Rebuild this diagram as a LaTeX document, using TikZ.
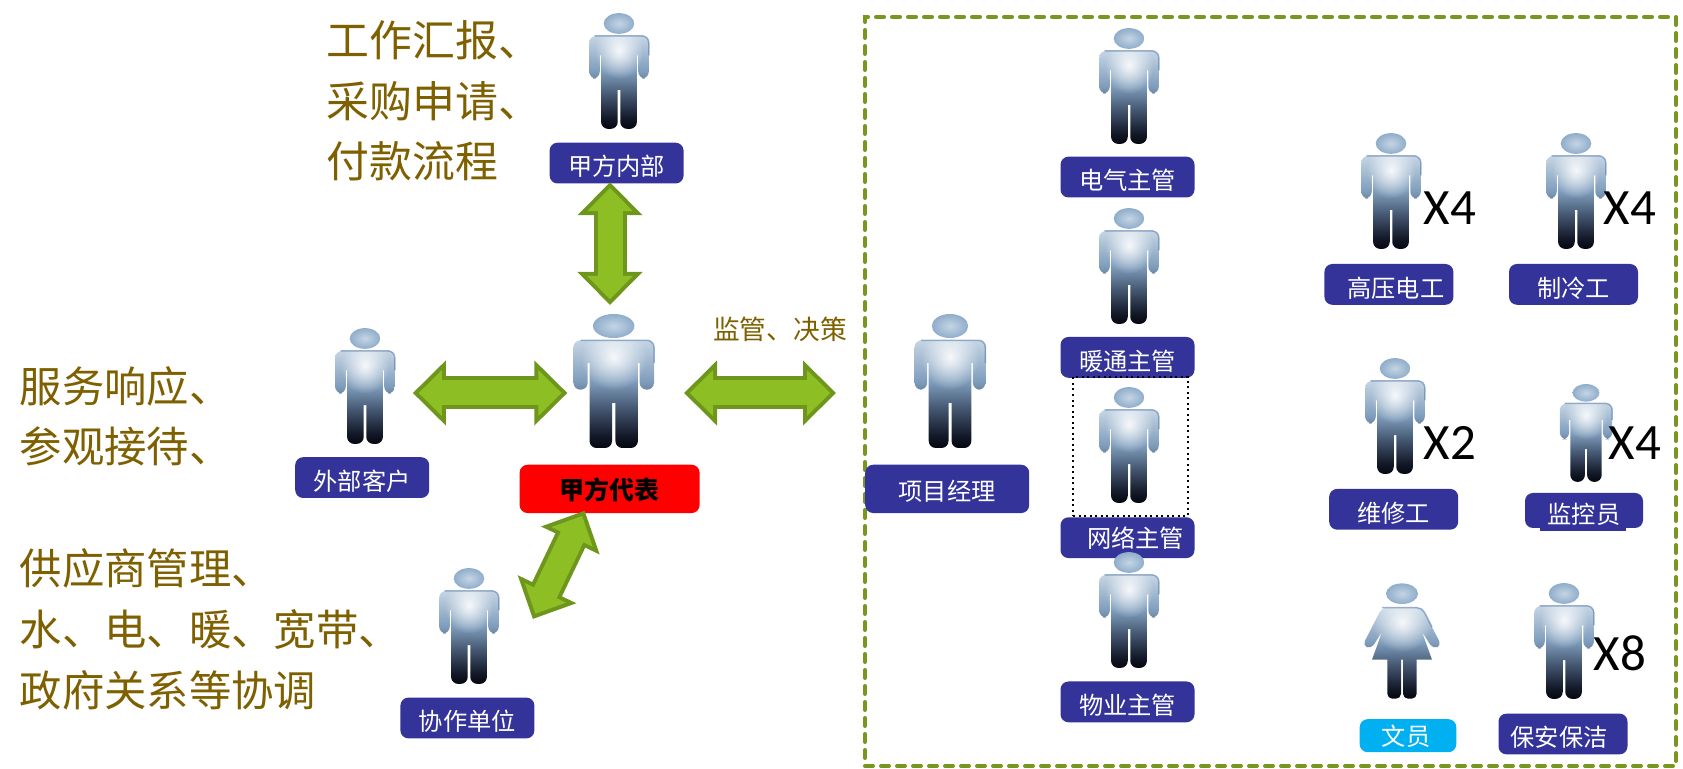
\documentclass[tikz,border=0pt]{standalone}
\usepackage{fontspec}
\setmainfont{Noto Sans CJK SC}
\newfontfamily\latinfont{Carlito}
\newfontfamily\heavyfont{Noto Sans CJK SC Black}
\usetikzlibrary{arrows.meta,fadings}

\definecolor{tagblue}{HTML}{333399}
\definecolor{tagcyan}{HTML}{00B0F0}
\definecolor{notebrown}{HTML}{7F6000}
\definecolor{blockfill}{HTML}{8DBF24}
\definecolor{blockedge}{HTML}{6E961C}
\definecolor{boxgreen}{HTML}{77971F}
\definecolor{manedge}{HTML}{5A7FAE}
\definecolor{manhead}{HTML}{8FADCB}
\definecolor{manshadeA}{HTML}{05070F}
\definecolor{manshadeB}{HTML}{141A2A}
\definecolor{manshadeC}{HTML}{475A75}
\definecolor{manshadeD}{HTML}{7F9DBC}
\definecolor{manshadeE}{HTML}{C5D5E4}
% the path fills the stops from 25bp to 75bp
\pgfdeclareverticalshading{manshade}{100bp}{color(0bp)=(manshadeA); color(25bp)=(manshadeA); color(31bp)=(manshadeB);
  color(44bp)=(manshadeC); color(56bp)=(manshadeD); color(75bp)=(manshadeE); color(100bp)=(manshadeE)}
\tikzfading[name=manglow, inner color=transparent!10, outer color=transparent!100]

% outlines of the two figures, in mm around their centre
\newcommand{\manoutline}{(0,4.07) -- (4.03,4.07) -- (4.03,-.87) -- (2.6,-.87)
  [sharp corners] -- (2.6,1.8) -- (2.42,1.8) [rounded corners=.7mm] -- (2.42,-6.7) -- (.17,-6.7)
  [sharp corners] -- (.17,-2.2) -- (-.17,-2.2) [rounded corners=.7mm] -- (-.17,-6.7) -- (-2.42,-6.7)
  [sharp corners] -- (-2.42,1.8) -- (-2.6,1.8) [rounded corners=.7mm] -- (-2.6,-.87) -- (-4.03,-.87) -- (-4.03,4.07) -- cycle}
\newcommand{\womanoutline}{(0,3.33) -- (2.0,3.33) -- (3.95,-.45) -- (3.1,-.8)
  [sharp corners] -- (2.0,.9) -- (3.0,-1.87) -- (1.47,-1.87) [rounded corners=.5mm] -- (1.47,-5.77) -- (.1,-5.77)
  [sharp corners] -- (.1,-1.87) -- (-.1,-1.87) [rounded corners=.5mm] -- (-.1,-5.77) -- (-1.47,-5.77)
  [sharp corners] -- (-1.47,-1.87) -- (-3.0,-1.87) -- (-2.0,.9) [rounded corners=.5mm] -- (-3.1,-.8) -- (-3.95,-.45) -- (-2.0,3.33) -- cycle}

\tikzset{
  manfig/.pic={
    \node[minimum width=8.06mm, minimum height=13.4mm, inner sep=0pt, outer sep=0pt, transform shape] (-body) {};
    \shade[inner color=manshadeE, outer color=manhead] (0,5.5) ellipse (2.07 and 1.2);
    \shade[shading=manshade, rounded corners=.7mm] \manoutline;
    \begin{scope}
      \clip[rounded corners=.7mm] \manoutline;
      \fill[white, path fading=manglow] (0,2.4) circle (3.3);
    \end{scope}
    \draw[manedge, opacity=.6, line width=.15mm, rounded corners=.7mm] (-3.3,4.07) -- (4.03,4.07) -- (4.03,1.8);
  },
  womanfig/.pic={
    \node[minimum width=7.9mm, minimum height=11.5mm, inner sep=0pt, outer sep=0pt, transform shape] (-body) {};
    \shade[inner color=manshadeE, outer color=manhead] (0,4.73) ellipse (1.6 and 1.03);
    \shade[shading=manshade, rounded corners=.5mm] \womanoutline;
    \begin{scope}
      \clip[rounded corners=.5mm] \womanoutline;
      \fill[white, path fading=manglow] (0,1.9) circle (3);
    \end{scope}
    \draw[manedge, opacity=.6, line width=.15mm, rounded corners=.5mm] (-2,3.33) -- (2,3.33) -- (3,1.4);
  },
  smallman/.style={xscale=.74, yscale=.864},
  tag/.style={fill=tagblue, text=white, rounded corners=.8mm, minimum width=13.4mm, minimum height=4.08mm,
    inner sep=0pt, text height=7.9pt, font=\fontsize{6.9}{8}\selectfont},
  bigtag/.style={tag, minimum height=4.83mm, text height=6.9pt},
  note/.style={text=notebrown, align=left, inner sep=0pt, font=\fontsize{12.2}{17.3}\selectfont},
  count/.style={inner sep=0pt, font=\latinfont\fontsize{14.5}{16}\selectfont},
  blockarrow/.style 2 args={
    preaction={draw=blockedge, line width=3.3mm, shorten <=#1, shorten >=#2,
      {Triangle[length=3.3mm,width=6.3mm]}-{Triangle[length=3.3mm,width=6.3mm]}},
    draw=blockfill, line width=2.5mm, shorten <=#1+.58mm, shorten >=#2+.58mm,
    {Triangle[length=2.32mm,width=4.43mm]}-{Triangle[length=2.32mm,width=4.43mm]}}
}

\begin{document}
\begin{tikzpicture}[x=1mm, y=1mm]
    \useasboundingbox (0,0) rectangle (168.3,-76.9);

    % the dashed frame round the team
    \node[draw=boxgreen, line width=.4mm, dash pattern=on .8mm off .8mm, line cap=round, inner sep=0pt,
        minimum width=81.1mm, minimum height=74.9mm] (teambox) at (127.05,-39.15) {};

    % name tags
    \node[tag] (ownertag) at (61.66,-16.31) {甲方内部};
    \node[tag] (clienttag) at (36.22,-47.76) {外部客户};
    \node[tag] (partnertag) at (46.74,-71.8) {协作单位};
    \node[bigtag, fill=red, text=black, minimum width=18mm, font=\heavyfont\fontsize{7.1}{8}\selectfont] (bosstag) at (60.96,-48.89) {甲方代表};
    \node[bigtag, minimum width=16.4mm] (pmtag) at (94.72,-48.89) {项目经理};
    \node[tag] (electag) at (112.75,-17.71) {电气主管};
    \node[tag] (hvactag) at (112.75,-35.74) {暖通主管};
    \node[tag, text height=5.9pt] (nettag) at (112.75,-53.77) {\hspace{1.6mm}网络主管};
    \node[tag] (proptag) at (112.75,-70.19) {物业主管};
    \node[tag, minimum width=12.9mm] (hvolttag) at (138.89,-28.44) {\hspace{1.4mm}高压电工};
    \node[tag, minimum width=12.9mm] (cooltag) at (157.35,-28.44) {制冷工};
    \node[tag, minimum width=12.9mm] (repairtag) at (139.37,-50.93) {维修工};
    \fill[tagblue] (154,-52) rectangle (162.6,-53.1);
    \node[tag, minimum width=11.8mm, minimum height=3.5mm] (monitortag) at (158.4,-51.05) {监控员};
    \node[tag, fill=tagcyan, minimum width=9.66mm, minimum height=3.3mm, text height=5.9pt] (clerktag) at (140.8,-73.57) {\hspace{-.4mm}文员};
    \node[tag, minimum width=12.9mm] (guardtag) at (156.3,-73.4) {\hspace{-.8mm}保安保洁};

    % people
    \pic[smallman] (owner) at (61.9,-7.1) {manfig};
    \pic[smallman] (client) at (36.5,-38.6) {manfig};
    \pic (boss) at (61.37,-38.1) {manfig};
    \pic[smallman] (partner) at (46.9,-62.6) {manfig};
    \pic[xscale=.88] (pm) at (95,-38.1) {manfig};
    \pic[smallman] (elec) at (112.9,-8.6) {manfig};
    \pic[smallman] (hvac) at (112.9,-26.6) {manfig};
    \pic[smallman] (net) at (112.9,-44.5) {manfig};
    \pic[smallman] (prop) at (112.9,-61) {manfig};
    \pic[smallman] (hvolt) at (139.1,-19.1) {manfig};
    \pic[smallman] (cool) at (157.6,-19.1) {manfig};
    \pic[smallman] (repair) at (139.5,-41.6) {manfig};
    \pic[xscale=.65, yscale=.73] (monitor) at (158.6,-43.3) {manfig};
    \pic (clerk) at (140.2,-64.1) {womanfig};
    \pic[smallman] (guard) at (156.4,-64.1) {manfig};

    % dotted frame round the network lead
    \node[draw, densely dotted, line width=.2mm, inner sep=0pt, minimum width=11.5mm, minimum height=13.9mm] (netbox) at (113.05,-44.65) {};

    % arrows round the client lead
    \coordinate (row) at ([yshift=-1.2mm]boss-body.center);
    \draw[blockarrow={1.8mm}{.6mm}] (client-body.east |- row) -- (boss-body.west |- row);
    \draw[blockarrow={3mm}{7.85mm}] (boss-body.east |- row) -- (pm-body.west |- row);
    \draw[blockarrow={.9mm}{-.2mm}] ([xshift=-.37mm]boss-body.north) -- ([xshift=-.66mm]ownertag.south);
    \draw[blockarrow={0mm}{0mm}] ([xshift=-2.5mm,yshift=.3mm]bosstag.south) -- ([xshift=3.4mm,yshift=.7mm]partner-body.east);

    % texts
    \node[note, anchor=west] (ownernote) at (32.6,-10.09) {工作汇报、\\采购申请、\\付款流程};
    \node[note, anchor=west, font=\fontsize{12.05}{17.3}\selectfont] (clientnote) at (1.9,-53.8) {服务响应、\\参观接待、\\ \\供应商管理、\\水、电、暖、宽带、\\政府关系等协调};
    \node[note, font=\fontsize{7.6}{9}\selectfont] (dutynote) at (78,-32.95) {监管、决策};
    \node[count] (hvoltcount) at (145,-20.8) {X4};
    \node[count] (coolcount) at (163,-20.8) {X4};
    \node[count] (repaircount) at (145,-44.3) {X2};
    \node[count] (monitorcount) at (163.5,-44.3) {X4};
    \node[count] (guardcount) at (162,-65.3) {X8};
\end{tikzpicture}
\end{document}
